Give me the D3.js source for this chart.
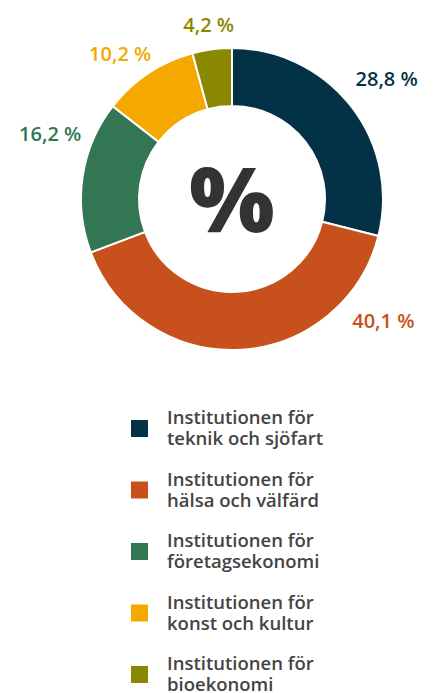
<!DOCTYPE html>
<html>
<head>
<meta charset="utf-8">
<script src="https://cdn.jsdelivr.net/npm/d3@7"></script>
<style>
  body { margin: 0; background: #fff; }
  svg { display: block; font-family: "Open Sans", sans-serif; }
</style>
</head>
<body>
<svg id="chart"></svg>
<script>
const departments = ["Institutionen för teknik och sjöfart", "Institutionen för hälsa och välfärd",
  "Institutionen för företagsekonomi", "Institutionen för konst och kultur", "Institutionen för bioekonomi"];
const legendLines = [
  ["Institutionen för", "teknik och sjöfart"],
  ["Institutionen för", "hälsa och välfärd"],
  ["Institutionen för", "företagsekonomi"],
  ["Institutionen för", "konst och kultur"],
  ["Institutionen för", "bioekonomi"]
];
const shares = [28.8, 40.1, 16.2, 10.2, 4.2];
const shareLabels = ["28,8 %", "40,1 %", "16,2 %", "10,2 %", "4,2 %"];
const colors = ["#033246", "#c8501c", "#337653", "#f5a800", "#8a8800"];

const width = 435, height = 693;
const cx = 232, cy = 199;
const outerR = 151, innerR = 93;

var svg = d3.select("#chart")
            .attr("width", width)
            .attr("height", height);

var data = shares.map((v, i) => ({name: departments[i], value: v, label: shareLabels[i], color: colors[i], lines: legendLines[i]}));

var pie = d3.pie()
            .value(d => d.value)
            .sort(null);

var arc = d3.arc()
            .innerRadius(innerR)
            .outerRadius(outerR);

var g = svg.append("g")
           .attr("transform", "translate(" + cx + "," + cy + ")");

var arcs = pie(data);

g.selectAll("path")
 .data(arcs)
 .enter()
 .append("path")
 .attr("d", arc)
 .attr("fill", d => d.data.color)
 .attr("stroke", "#fff")
 .attr("stroke-width", 2);

// label placement: radius and angle shift (degrees) per slice, tuned by eye
const labelPlace = [[196, 0], [194, -48], [193, 11], [183, -4], [176, 0]];

g.selectAll("text.pct")
 .data(arcs)
 .enter()
 .append("text")
 .attr("class", "pct")
 .attr("transform", (d, i) => {
   var a = (d.startAngle + d.endAngle) / 2 + labelPlace[i][1] * Math.PI / 180;
   var p = d3.pointRadial(a, labelPlace[i][0]);
   return "translate(" + p[0] + "," + p[1] + ")";
 })
 .attr("text-anchor", "middle")
 .attr("dy", "0.36em")
 .attr("font-size", 20)
 .attr("font-weight", 600)
 .attr("fill", d => d.data.color)
 .text(d => d.data.label);

g.append("text")
 .attr("text-anchor", "middle")
 .attr("y", 33)
 .attr("font-size", 90)
 .attr("font-weight", 800)
 .attr("fill", "#333")
 .text("%");

// legend
var legend = svg.append("g")
                .attr("transform", "translate(131,420)");

var item = legend.selectAll("g")
                 .data(data)
                 .enter()
                 .append("g")
                 .attr("transform", (d, i) => "translate(0," + (i * 61.5) + ")");

item.append("rect")
    .attr("width", 17)
    .attr("height", 17)
    .attr("fill", d => d.color);

item.append("text")
    .attr("x", 36)
    .attr("y", 4)
    .attr("font-size", 18.5)
    .attr("font-weight", 600)
    .attr("fill", "#444")
    .selectAll("tspan")
    .data(d => d.lines)
    .enter()
    .append("tspan")
    .attr("x", 36)
    .attr("dy", (d, i) => i == 0 ? 0 : 21)
    .text(d => d);
</script>
</body>
</html>
